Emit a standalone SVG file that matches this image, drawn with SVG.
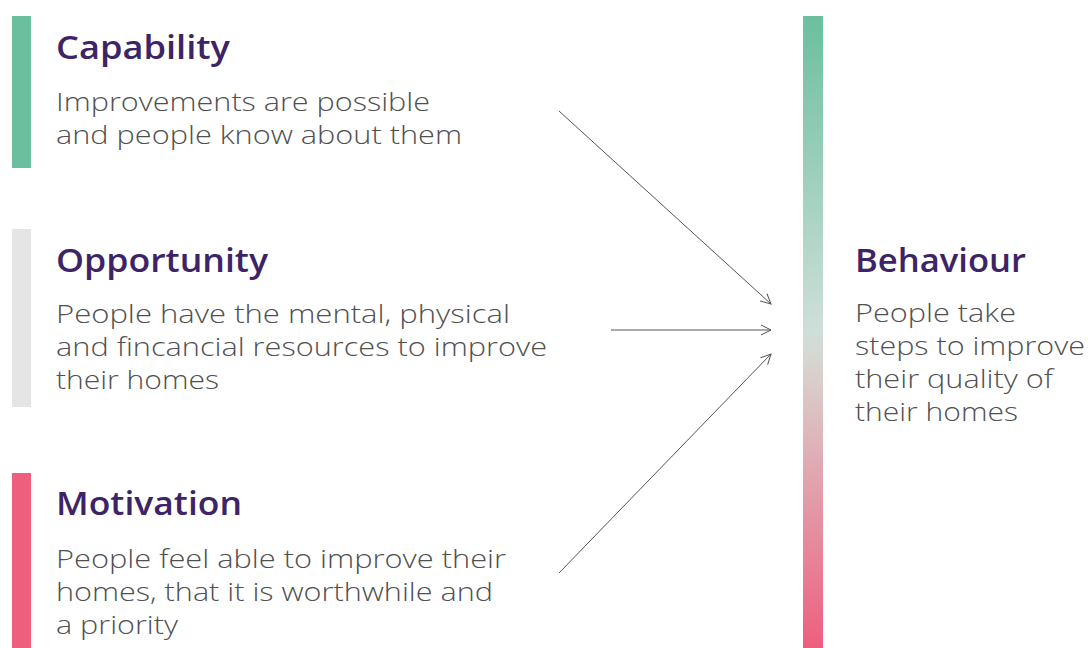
<svg xmlns="http://www.w3.org/2000/svg" width="1088" height="648" viewBox="0 0 1088 648">
<defs>
<linearGradient id="bgrad" x1="0" y1="0" x2="0" y2="1">
<stop offset="0" stop-color="#6bbf9f"/>
<stop offset="0.5" stop-color="#cfdfd9"/>
<stop offset="0.55" stop-color="#d8d4d0"/>
<stop offset="1" stop-color="#ee5e7e"/>
</linearGradient>
<marker id="arr" viewBox="0 0 12 12" refX="11" refY="6" markerWidth="12" markerHeight="12" markerUnits="userSpaceOnUse" orient="auto">
<path d="M1,1 L11,6 L1,11" fill="none" stroke="#555" stroke-width="1"/>
</marker>
<style>
.t{font-family:"Open Sans","Liberation Sans",sans-serif;font-weight:600;font-size:33px;fill:#3d2466}
.b{font-family:"Open Sans","Liberation Sans",sans-serif;font-weight:300;font-size:26px;fill:#505050}
.c{stroke:#555;stroke-width:1;fill:none}
</style>
</defs>
<rect width="1088" height="648" fill="#fff"/>
<g id="capability">
<rect x="12" y="16" width="19" height="152" fill="#6bbf9f"/>
<text class="t" x="56" y="59" textLength="174" lengthAdjust="spacingAndGlyphs">Capability</text>
<text class="b" x="56" y="111" textLength="374" lengthAdjust="spacingAndGlyphs">Improvements are possible</text>
<text class="b" x="56" y="144" textLength="406" lengthAdjust="spacingAndGlyphs">and people know about them</text>
</g>
<g id="opportunity">
<rect x="12" y="229" width="19" height="178" fill="#e5e5e5"/>
<text class="t" x="56" y="272" textLength="212" lengthAdjust="spacingAndGlyphs">Opportunity</text>
<text class="b" x="56" y="323" textLength="454" lengthAdjust="spacingAndGlyphs">People have the mental, physical</text>
<text class="b" x="56" y="356" textLength="491" lengthAdjust="spacingAndGlyphs">and fincancial resources to improve</text>
<text class="b" x="56" y="389" textLength="163" lengthAdjust="spacingAndGlyphs">their homes</text>
</g>
<g id="motivation">
<rect x="12" y="473" width="19" height="175" fill="#ee5f7e"/>
<text class="t" x="56" y="515" textLength="186" lengthAdjust="spacingAndGlyphs">Motivation</text>
<text class="b" x="56" y="568" textLength="450" lengthAdjust="spacingAndGlyphs">People feel able to improve their</text>
<text class="b" x="56" y="601" textLength="437" lengthAdjust="spacingAndGlyphs">homes, that it is worthwhile and</text>
<text class="b" x="56" y="634" textLength="122" lengthAdjust="spacingAndGlyphs">a priority</text>
</g>
<g id="behaviour">
<rect x="803" y="16" width="20" height="632" fill="url(#bgrad)"/>
<text class="t" x="855" y="272" textLength="171" lengthAdjust="spacingAndGlyphs">Behaviour</text>
<text class="b" x="855" y="322" textLength="161" lengthAdjust="spacingAndGlyphs">People take</text>
<text class="b" x="855" y="355" textLength="230" lengthAdjust="spacingAndGlyphs">steps to improve</text>
<text class="b" x="855" y="388" textLength="198" lengthAdjust="spacingAndGlyphs">their quality of</text>
<text class="b" x="855" y="421" textLength="163" lengthAdjust="spacingAndGlyphs">their homes</text>
</g>
<g id="connectors">
<line class="c" x1="559" y1="111" x2="771" y2="304" marker-end="url(#arr)"/>
<line class="c" x1="611" y1="330" x2="771" y2="330" marker-end="url(#arr)"/>
<line class="c" x1="559" y1="573" x2="771" y2="354" marker-end="url(#arr)"/>
</g>
</svg>
